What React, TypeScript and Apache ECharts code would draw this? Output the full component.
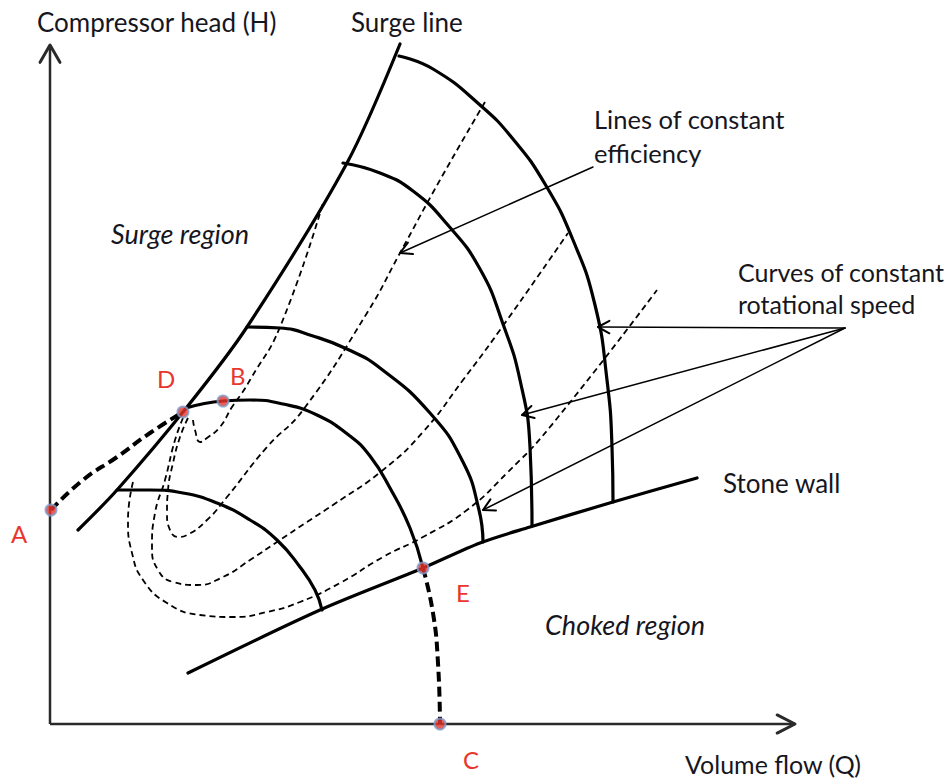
import React, { useEffect, useRef } from "react";
import * as echarts from "echarts";

type P = [number, number];

// Coordinates: Q = volume flow, H = compressor head (arbitrary units)
const axisQ: P[] = [[0, 0], [745, 0]];
const axisH: P[] = [[0, 0], [0, 679]];

const surgeLine: P[] = [[28, 194], [67, 234], [137, 317], [197, 397], [297, 561], [350, 680]];
const stoneWall: P[] = [[138, 51], [270, 114], [373, 156], [430, 181], [480, 197], [563, 222], [647, 246]];

const speedCurve1: P[] = [[67, 234], [100, 234], [133, 231], [167, 221], [200, 204], [227, 184], [250, 157], [265, 134], [272, 114]];
const speedCurve2: P[] = [[136, 316], [173, 323], [200, 324], [233, 320], [267, 309], [300, 288], [320, 268], [340, 236], [360, 196], [373, 156]];
const speedCurve3: P[] = [[197, 397], [230, 396], [263, 388], [297, 375], [330, 356], [380, 311], [413, 262], [429, 214], [433, 182]];
const speedCurve4: P[] = [[293, 561], [330, 551], [363, 533], [397, 500], [430, 455], [453, 400], [470, 344], [480, 277], [482, 199]];
const speedCurve5: P[] = [[349, 668], [383, 655], [430, 619], [463, 585], [495, 540], [523, 484], [545, 419], [557, 344], [562, 277], [563, 222]];

const effLine1: P[] = [[143, 304], [145, 294], [150, 282], [157, 286], [170, 297], [182, 317], [192, 331], [200, 344], [230, 397], [273, 521]];
const effLine2: P[] = [[138, 306], [130, 287], [123, 261], [118, 234], [117, 211], [120, 194], [128, 187], [137, 189], [157, 204], [177, 227], [217, 277], [253, 314], [317, 411], [350, 471], [390, 544], [435, 622]];
const effLine3: P[] = [[133, 306], [125, 284], [115, 244], [105, 211], [102, 177], [108, 154], [123, 142], [147, 139], [173, 147], [200, 164], [230, 184], [257, 202], [283, 219], [333, 254], [373, 292], [413, 344], [450, 394], [518, 491]];
const effLine4: P[] = [[83, 242], [78, 204], [82, 171], [93, 144], [117, 121], [150, 109], [183, 107], [217, 112], [250, 122], [290, 141], [333, 167], [373, 187], [417, 214], [457, 251], [500, 297], [607, 434]];

const operatingAD: P[] = [[1, 214], [33, 244], [67, 267], [100, 291], [133, 312]];
const operatingEC: P[] = [[373, 156], [383, 111], [388, 61], [390, 0]];

const stateNames = ["A", "D", "B", "E", "C"];
const statePoints: P[] = [[1, 214], [133, 312], [173, 323], [373, 156], [390, 0]];

const effArrowFrom: P = [543, 557];
const effArrowTip: P = [350, 471];
const speedArrowFrom: P = [795, 396];
const speedArrowTips: P[] = [[548, 397], [472, 309], [433, 214]];

function chevron(tip: P, from: P, len: number, spread: number): P[] {
  const a = Math.atan2(from[1] - tip[1], from[0] - tip[0]);
  return [
    [tip[0] + len * Math.cos(a + spread), tip[1] + len * Math.sin(a + spread)],
    tip,
    [tip[0] + len * Math.cos(a - spread), tip[1] + len * Math.sin(a - spread)],
  ];
}

const FONT = "Lato, 'Open Sans', sans-serif";
const TEXT = "#16161e";
const RED = "#e8362c";

export default function App() {
  const ref = useRef<HTMLDivElement>(null);
  useEffect(() => {
    if (!ref.current) return;
    const chart = echarts.init(ref.current, undefined, { renderer: "svg" });

    const line = (data: P[], width: number, opts: any = {}) => ({
      type: "line",
      data,
      smooth: opts.smooth ?? 0.5,
      symbol: "none",
      silent: true,
      clip: false,
      z: opts.z ?? 2,
      lineStyle: {
        color: opts.color ?? "#000",
        width,
        type: opts.dash ?? "solid",
        cap: opts.cap ?? "round",
        join: "round",
      },
    });

    const series: any[] = [
      line(axisH, 2.5, { smooth: false, color: "#2a2a2a", cap: "butt" }),
      line(axisQ, 2.5, { smooth: false, color: "#2a2a2a", cap: "butt" }),
      line(chevron(axisH[1], axisH[0], 20, 0.52), 3, { smooth: false, color: "#2a2a2a" }),
      line(chevron(axisQ[1], axisQ[0], 20, 0.47), 3, { smooth: false, color: "#2a2a2a" }),
      line(surgeLine, 3.2, { smooth: 0.3 }),
      line(stoneWall, 3.2, { smooth: 0.3 }),
      line(speedCurve1, 3.2),
      line(speedCurve2, 3.2),
      line(speedCurve3, 3.2),
      line(speedCurve4, 3.2),
      line(speedCurve5, 3.2),
      line(effLine1, 1.8, { dash: [6, 4], cap: "butt" }),
      line(effLine2, 1.8, { dash: [6, 4], cap: "butt" }),
      line(effLine3, 1.8, { dash: [6, 4], cap: "butt" }),
      line(effLine4, 1.8, { dash: [6, 4], cap: "butt" }),
      line(operatingAD, 4, { dash: [10, 5], cap: "butt" }),
      line(operatingEC, 4, { dash: [10, 5], cap: "butt" }),
      line([effArrowFrom, effArrowTip], 1.5, { smooth: false }),
      line(chevron(effArrowTip, effArrowFrom, 13, 0.5), 2, { smooth: false }),
      ...speedArrowTips.flatMap((tip) => [
        line([speedArrowFrom, tip], 1.5, { smooth: false }),
        line(chevron(tip, speedArrowFrom, 13, 0.5), 2, { smooth: false }),
      ]),
      {
        type: "scatter",
        data: statePoints,
        symbol: "circle",
        symbolSize: 11,
        silent: true,
        z: 5,
        itemStyle: { color: RED, borderColor: "#7c9dd0", borderWidth: 2 },
      },
    ];

    const txt = (text: string, x: number, y: number, size: number, extra: any = {}) => ({
      type: "text",
      x,
      y,
      silent: true,
      style: {
        text,
        fill: extra.fill ?? TEXT,
        font: `${extra.italic ? "italic " : ""}${size}px ${FONT}`,
        align: "left",
        verticalAlign: "middle",
      },
    });

    const labelPos: P[] = [[11, 533], [157, 378], [230, 375], [456, 592], [463, 759]];

    chart.setOption({
      animation: false,
      grid: { left: 0, right: 0, top: 0, bottom: 0 },
      xAxis: { type: "value", min: -50, max: 901, show: false },
      yAxis: { type: "value", min: -58, max: 724, show: false },
      series,
      graphic: [
        txt("Compressor head (H)", 37, 22, 26),
        txt("Surge line", 351, 22, 26),
        txt("Surge region", 111, 233, 27, { italic: true }),
        txt("Lines of constant", 594, 119, 25.5),
        txt("efficiency", 594, 153, 25.5),
        txt("Curves of constant", 738, 272, 25),
        txt("rotational speed", 738, 304, 25),
        txt("Stone wall", 723, 483, 26),
        txt("Choked region", 545, 624, 27, { italic: true }),
        txt("Volume flow (Q)", 685, 764, 25),
        ...stateNames.map((n, i) => txt(n, labelPos[i][0], labelPos[i][1], 24, { fill: RED })),
      ],
    });
    return () => chart.dispose();
  }, []);

  return (
    <div style={{ position: "absolute", left: 0, top: 0, width: 951, height: 782, background: "#fff" }}>
      <div ref={ref} style={{ width: 951, height: 782 }} />
    </div>
  );
}
